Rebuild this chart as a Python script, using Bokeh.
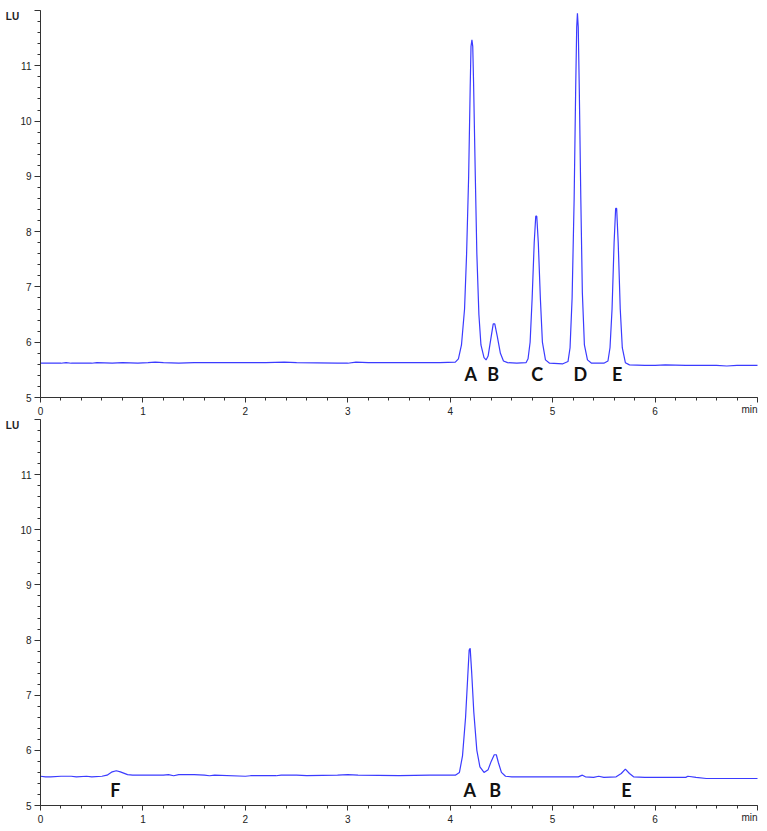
from bokeh.plotting import figure
from bokeh.models import ColumnDataSource, Range1d, FixedTicker
from bokeh.layouts import column
from bokeh.core.properties import value
from bokeh.embed import file_html
from bokeh.resources import INLINE

# ---- data ----
top_time = [0.0, 0.2, 0.25, 0.3, 0.5, 0.55, 0.7, 0.8, 0.95, 1.05, 1.12, 1.2, 1.35, 1.5, 1.8, 2.0, 2.2, 2.38, 2.5,
            2.9, 3.0, 3.08, 3.2, 3.5, 3.9, 4.05,
            4.08, 4.11, 4.14, 4.16, 4.18, 4.195, 4.203, 4.212, 4.22, 4.228, 4.245, 4.26, 4.28, 4.30, 4.33, 4.35,
            4.37, 4.40, 4.42, 4.435, 4.46, 4.49, 4.52, 4.56, 4.65, 4.74,
            4.76, 4.78, 4.80, 4.82, 4.835, 4.845, 4.86, 4.88, 4.90, 4.93, 4.97, 5.10, 5.15,
            5.17, 5.19, 5.21, 5.225, 5.235, 5.242, 5.25, 5.26, 5.275, 5.29, 5.31, 5.34, 5.38, 5.50, 5.54,
            5.56, 5.58, 5.60, 5.615, 5.625, 5.64, 5.66, 5.68, 5.71, 5.75, 5.90, 6.0, 6.1, 6.3, 6.6, 6.7, 6.8, 7.0]
top_signal = [5.62, 5.62, 5.63, 5.62, 5.62, 5.63, 5.62, 5.63, 5.62, 5.63, 5.64, 5.63, 5.62, 5.63, 5.63, 5.63, 5.63, 5.64, 5.63,
              5.62, 5.62, 5.64, 5.63, 5.63, 5.63, 5.64,
              5.70, 5.95, 6.6, 7.6, 9.0, 10.6, 11.35, 11.47, 11.35, 10.7, 9.0, 7.6, 6.5, 5.95, 5.72, 5.68,
              5.75, 6.1, 6.33, 6.33, 6.1, 5.8, 5.66, 5.63, 5.62, 5.63,
              5.70, 6.0, 6.8, 7.8, 8.28, 8.28, 7.8, 6.8, 6.0, 5.68, 5.62, 5.61, 5.65,
              5.9, 6.8, 8.6, 10.6, 11.7, 11.95, 11.7, 10.6, 8.6, 6.9, 5.95, 5.68, 5.62, 5.62, 5.66,
              5.9, 6.6, 7.8, 8.42, 8.42, 7.8, 6.6, 5.9, 5.63, 5.59, 5.58, 5.58, 5.59, 5.58, 5.58, 5.57, 5.58, 5.58]

bottom_time = [0.0, 0.05, 0.1, 0.2, 0.3, 0.35, 0.45, 0.5, 0.6, 0.65, 0.7, 0.74, 0.78, 0.85, 0.9, 1.0, 1.2, 1.25, 1.3,
               1.35, 1.5, 1.6, 1.65, 1.7, 2.0, 2.05, 2.3, 2.35, 2.5, 2.6, 2.9, 3.0, 3.1, 3.5, 3.8, 4.05,
               4.09, 4.12, 4.15, 4.17, 4.185, 4.195, 4.21, 4.23, 4.26, 4.29, 4.33, 4.37, 4.40, 4.43, 4.45, 4.47,
               4.50, 4.54, 4.6, 5.0, 5.25, 5.29, 5.32, 5.4, 5.45, 5.5, 5.62, 5.67, 5.71, 5.75, 5.79, 5.9, 6.1,
               6.3, 6.32, 6.4, 6.5, 6.8, 7.0]
bottom_signal = [5.53, 5.52, 5.52, 5.53, 5.53, 5.52, 5.53, 5.52, 5.53, 5.55, 5.61, 5.63, 5.61, 5.56, 5.55, 5.55, 5.55, 5.56, 5.54,
                 5.56, 5.56, 5.55, 5.54, 5.55, 5.53, 5.54, 5.54, 5.55, 5.55, 5.54, 5.55, 5.56, 5.55, 5.54, 5.55, 5.55,
                 5.60, 5.9, 6.6, 7.3, 7.82, 7.85, 7.4, 6.7, 6.0, 5.7, 5.6, 5.65, 5.8, 5.92, 5.92, 5.78,
                 5.6, 5.53, 5.52, 5.52, 5.52, 5.55, 5.52, 5.51, 5.53, 5.51, 5.52, 5.58, 5.66, 5.58, 5.52, 5.51, 5.51,
                 5.51, 5.53, 5.51, 5.49, 5.49, 5.49]

top_peak_names = ["A", "B", "C", "D", "E"]
top_peak_x = [4.2, 4.42, 4.85, 5.27, 5.63]
top_peak_y = [5.43, 5.43, 5.43, 5.43, 5.43]

bottom_peak_names = ["F", "A", "B", "E"]
bottom_peak_x = [0.73, 4.19, 4.44, 5.72]
bottom_peak_y = [5.29, 5.29, 5.29, 5.29]

x_major = [0, 1, 2, 3, 4, 5, 6, 7]
y_major = [5, 6, 7, 8, 9, 10, 11, 12]
x_limits = (0, 7)
y_limits = (5, 12)
y_unit_label = "LU"
x_unit_label = "min"

LINE_COLOR = "#3b3bff"
AXIS_COLOR = "#333333"
TICK_FONT = "Liberation Sans"

PX_PER_MIN = 717 / 7.0
CANVAS_W = 765
LEFT_PX = 40          # pixel of x=0 inside canvas


def make_panel(t, s, names, px, py, canvas_h, top_px, axis_px):
    # top_px: pixel of y=12 in canvas; axis_px: pixel of y=5 in canvas
    ppu = (axis_px - top_px) / 7.0
    x0 = x_limits[0] - LEFT_PX / PX_PER_MIN
    x1 = x_limits[1] + (CANVAS_W - LEFT_PX - 717) / PX_PER_MIN
    y1 = y_limits[1] + top_px / ppu
    y0 = y_limits[0] - (canvas_h - axis_px) / ppu
    p = figure(frame_width=CANVAS_W, frame_height=canvas_h, output_backend="svg", toolbar_location=None,
               x_range=Range1d(x0, x1), y_range=Range1d(y0, y1), min_border=0)
    p.outline_line_color = None
    p.xgrid.visible = False
    p.ygrid.visible = False
    p.background_fill_color = "white"
    p.border_fill_color = "white"

    p.line(t, s, line_color=LINE_COLOR, line_width=1.2)

    src = ColumnDataSource(dict(x=px, y=py, text=names))
    p.text(x="x", y="y", text="text", source=src, text_font=value("Lato"), text_font_style="bold",
           text_font_size="18px", text_align="center", text_baseline="middle", text_color="#111111")

    # unit labels: "LU" at the top-left of the y axis, "min" at the right end of the x axis
    p.text(x=[x_limits[0] - 28 / PX_PER_MIN], y=[y_limits[1] - 6 / ppu], text=[y_unit_label],
           text_font=value(TICK_FONT), text_font_size="10px", text_font_style="bold",
           text_color="#222222", text_align="center", text_baseline="middle")
    p.text(x=[x_limits[1]], y=[y_limits[0] - 12 / ppu], text=[x_unit_label],
           text_font=value(TICK_FONT), text_font_size="10px",
           text_color="#222222", text_align="right", text_baseline="middle")

    minor_x = [i * 0.2 for i in range(36)]
    minor_y = [5 + i * 0.2 for i in range(36)]
    p.xaxis.ticker = FixedTicker(ticks=x_major, minor_ticks=minor_x)
    p.yaxis.ticker = FixedTicker(ticks=y_major, minor_ticks=minor_y)
    p.xaxis.major_label_overrides = {7: ""}
    p.yaxis.major_label_overrides = {12: ""}
    p.xaxis.fixed_location = y_limits[0]
    p.yaxis.fixed_location = x_limits[0]
    p.xaxis.bounds = x_limits
    p.yaxis.bounds = y_limits
    for ax in (p.xaxis[0], p.yaxis[0]):
        ax.axis_line_color = AXIS_COLOR
        ax.axis_line_width = 1
        ax.major_tick_line_color = AXIS_COLOR
        ax.minor_tick_line_color = AXIS_COLOR
        ax.major_tick_in = 0
        ax.minor_tick_in = 0
        ax.minor_tick_out = 3
        ax.major_label_text_font = TICK_FONT
        ax.major_label_text_font_size = "10px"
        ax.major_label_text_color = "#222222"
        ax.major_label_standoff = 4
    p.xaxis.major_tick_out = 5
    p.yaxis.major_tick_out = 6
    p.yaxis.major_label_standoff = 3
    return p


p_top = make_panel(top_time, top_signal, top_peak_names, top_peak_x, top_peak_y, 417, 10, 397)
p_bot = make_panel(bottom_time, bottom_signal, bottom_peak_names, bottom_peak_x, bottom_peak_y, 412, 2, 388)

layout = column(p_top, p_bot, spacing=0)
open("out.html", "w").write(file_html(layout, INLINE))
